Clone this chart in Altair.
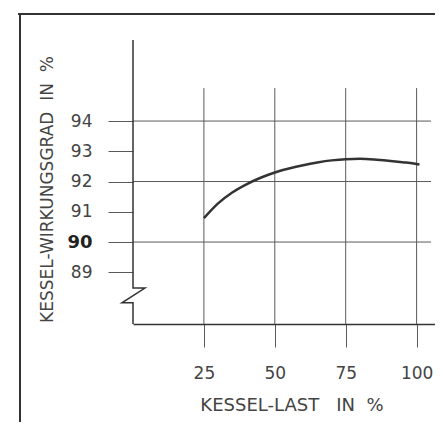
import altair as alt
import pandas as pd

# Curve: boiler efficiency vs. boiler load
load = [25, 30, 35, 40, 45, 50, 55, 60, 65, 70, 75, 80, 85, 90, 95, 100, 101]
eff = [90.79, 91.28, 91.64, 91.91, 92.125, 92.30, 92.43, 92.54, 92.63, 92.70,
       92.74, 92.75, 92.73, 92.69, 92.64, 92.58, 92.56]

x_ticks = [25, 50, 75, 100]
y_ticks = [89, 90, 91, 92, 93, 94]
grid_y = [90, 92, 94]

# axis line with break symbol (data units)
brk_x = [0, 0, 4.2, -3.9, 0, 0]
brk_y = [96.68, 88.48, 88.48, 87.99, 87.99, 87.29]

X_DOM = [0, 106.49]
Y_DOM = [87.29, 96.68]
FONT = "DejaVu Sans"
INK = "#333333"
GRID = "#5a5a5a"

xs = alt.Scale(domain=X_DOM, nice=False, zero=False)
ys = alt.Scale(domain=Y_DOM, nice=False, zero=False)

curve_df = pd.DataFrame({"load": load, "eff": eff})
brk_df = pd.DataFrame({"x": brk_x, "y": brk_y, "i": list(range(len(brk_x)))})
vgrid_df = pd.DataFrame({"x": x_ticks, "y": [95.09] * len(x_ticks), "y2": [Y_DOM[0]] * len(x_ticks)})
hgrid_df = pd.DataFrame({"y": grid_y, "x": [0] * len(grid_y), "x2": [105.1] * len(grid_y)})

x_axis = alt.Axis(
    values=x_ticks, grid=False, tickSize=23, tickColor=GRID, tickWidth=1,
    domain=True, domainColor=INK, domainWidth=1.5,
    labelFont=FONT, labelFontSize=17, labelColor="#444444", labelPadding=18,
    title="KESSEL-LAST\u00a0\u00a0 IN\u00a0 %", titleFont=FONT, titleFontSize=18,
    titleFontWeight="normal", titleColor="#444444",
    titleX=158.5, titleY=86, titleAlign="center", titleBaseline="alphabetic",
)
y_axis = alt.Axis(
    values=y_ticks, grid=False, tickSize=25, tickColor=GRID, tickWidth=1,
    domain=False,
    labelFont=FONT, labelPadding=16,
    labelFontSize={"condition": {"test": "datum.value === 90", "value": 18}, "value": 17},
    labelFontWeight={"condition": {"test": "datum.value === 90", "value": "bold"}, "value": "normal"},
    labelColor={"condition": {"test": "datum.value === 90", "value": "#222222"}, "value": "#444444"},
    title="KESSEL-WIRKUNGSGRAD\u00a0 IN\u00a0 %", titleFont=FONT, titleFontSize=17,
    titleFontWeight="normal", titleColor="#444444", titleAngle=270,
    titleX=-81, titleY=149, titleAlign="center", titleBaseline="alphabetic",
)

curve = alt.Chart(curve_df).mark_line(
    color=INK, strokeWidth=2.5, interpolate="monotone"
).encode(
    x=alt.X("load:Q", scale=xs, axis=x_axis),
    y=alt.Y("eff:Q", scale=ys, axis=y_axis),
)

vgrid = alt.Chart(vgrid_df).mark_rule(color=GRID, strokeWidth=1).encode(
    x=alt.X("x:Q", scale=xs), y=alt.Y("y:Q", scale=ys), y2="y2:Q"
)
hgrid = alt.Chart(hgrid_df).mark_rule(color=GRID, strokeWidth=1).encode(
    y=alt.Y("y:Q", scale=ys), x=alt.X("x:Q", scale=xs), x2="x2:Q"
)
yline = alt.Chart(brk_df).mark_line(color=INK, strokeWidth=1.5, interpolate="linear").encode(
    x=alt.X("x:Q", scale=xs), y=alt.Y("y:Q", scale=ys), order="i:Q"
)

frame_left = alt.Chart(curve_df).mark_rule(color=INK, strokeWidth=1.8).encode(
    x=alt.value(-113), y=alt.value(-26), y2=alt.value(382)
)
frame_top = alt.Chart(curve_df).mark_rule(color=INK, strokeWidth=1.8).encode(
    x=alt.value(-115), x2=alt.value(302), y=alt.value(-26)
)

chart = alt.layer(vgrid, hgrid, yline, curve, frame_left, frame_top).properties(
    width=302, height=284,
    autosize=alt.AutoSizeParams(type="none"),
    padding={"left": 125, "top": 32, "right": 0, "bottom": 98},
    background="white",
).configure_view(stroke=None)

chart.save("out.html", embed_options={"renderer": "svg", "actions": False})
